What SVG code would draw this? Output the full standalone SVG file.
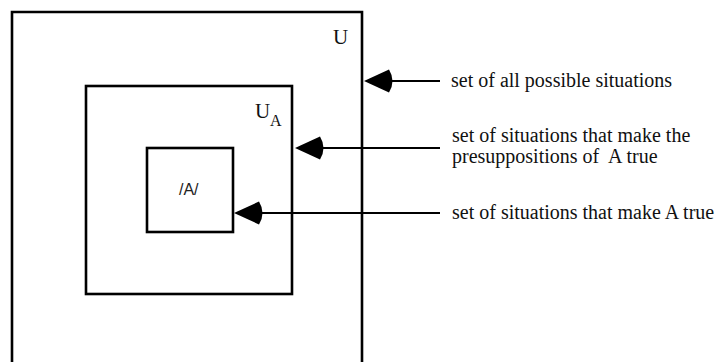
<svg xmlns="http://www.w3.org/2000/svg" width="722" height="362" viewBox="0 0 722 362">
  <style>
    .box { fill: none; stroke: #000; stroke-width: 2.6; }
    .conn { fill: none; stroke: #000; stroke-width: 2.2; marker-end: url(#head); }
    .lbl { font-family: "Liberation Serif", "Times New Roman", serif; font-size: 20px; fill: #111; }
    .set { font-family: "Liberation Serif", "Times New Roman", serif; font-size: 21px; fill: #111; }
    .sub { font-family: "Liberation Serif", "Times New Roman", serif; font-size: 16px; fill: #111; }
    .a { font-family: "Liberation Sans", Arial, sans-serif; font-size: 16px; fill: #222; }
  </style>
  <defs>
    <marker id="head" markerUnits="userSpaceOnUse" orient="auto" overflow="visible" markerWidth="40" markerHeight="30" refX="0" refY="0">
      <path d="M8,0 L-17,-11.5 Q-24,0 -17,11.5 Z" fill="#000"/>
    </marker>
  </defs>
  <rect width="722" height="362" fill="#fff"/>

  <g id="universe">
    <path class="box" d="M12,364 V12 H362 V364"/>
    <text class="set" x="333" y="44">U</text>
  </g>

  <g id="presup">
    <rect class="box" x="86" y="86" width="206" height="208"/>
    <text class="set" x="255" y="118">U</text>
    <text class="sub" x="270" y="126">A</text>
  </g>

  <g id="truth">
    <rect class="box" x="147" y="148" width="86" height="84"/>
    <text class="a" x="179" y="195">/A/</text>
  </g>

  <g id="connectors">
    <line class="conn" x1="440" y1="81" x2="372" y2="81"/>
    <line class="conn" x1="440" y1="148" x2="303" y2="148"/>
    <line class="conn" x1="440" y1="213" x2="242" y2="213"/>
  </g>

  <g id="labels">
    <text class="lbl" x="451" y="86.5">set of all possible situations</text>
    <text class="lbl" x="452" y="141.5">set of situations that make the</text>
    <text class="lbl" x="452" y="162.5">presuppositions of&#160; A true</text>
    <text class="lbl" x="452" y="219">set of situations that make A true</text>
  </g>
</svg>
